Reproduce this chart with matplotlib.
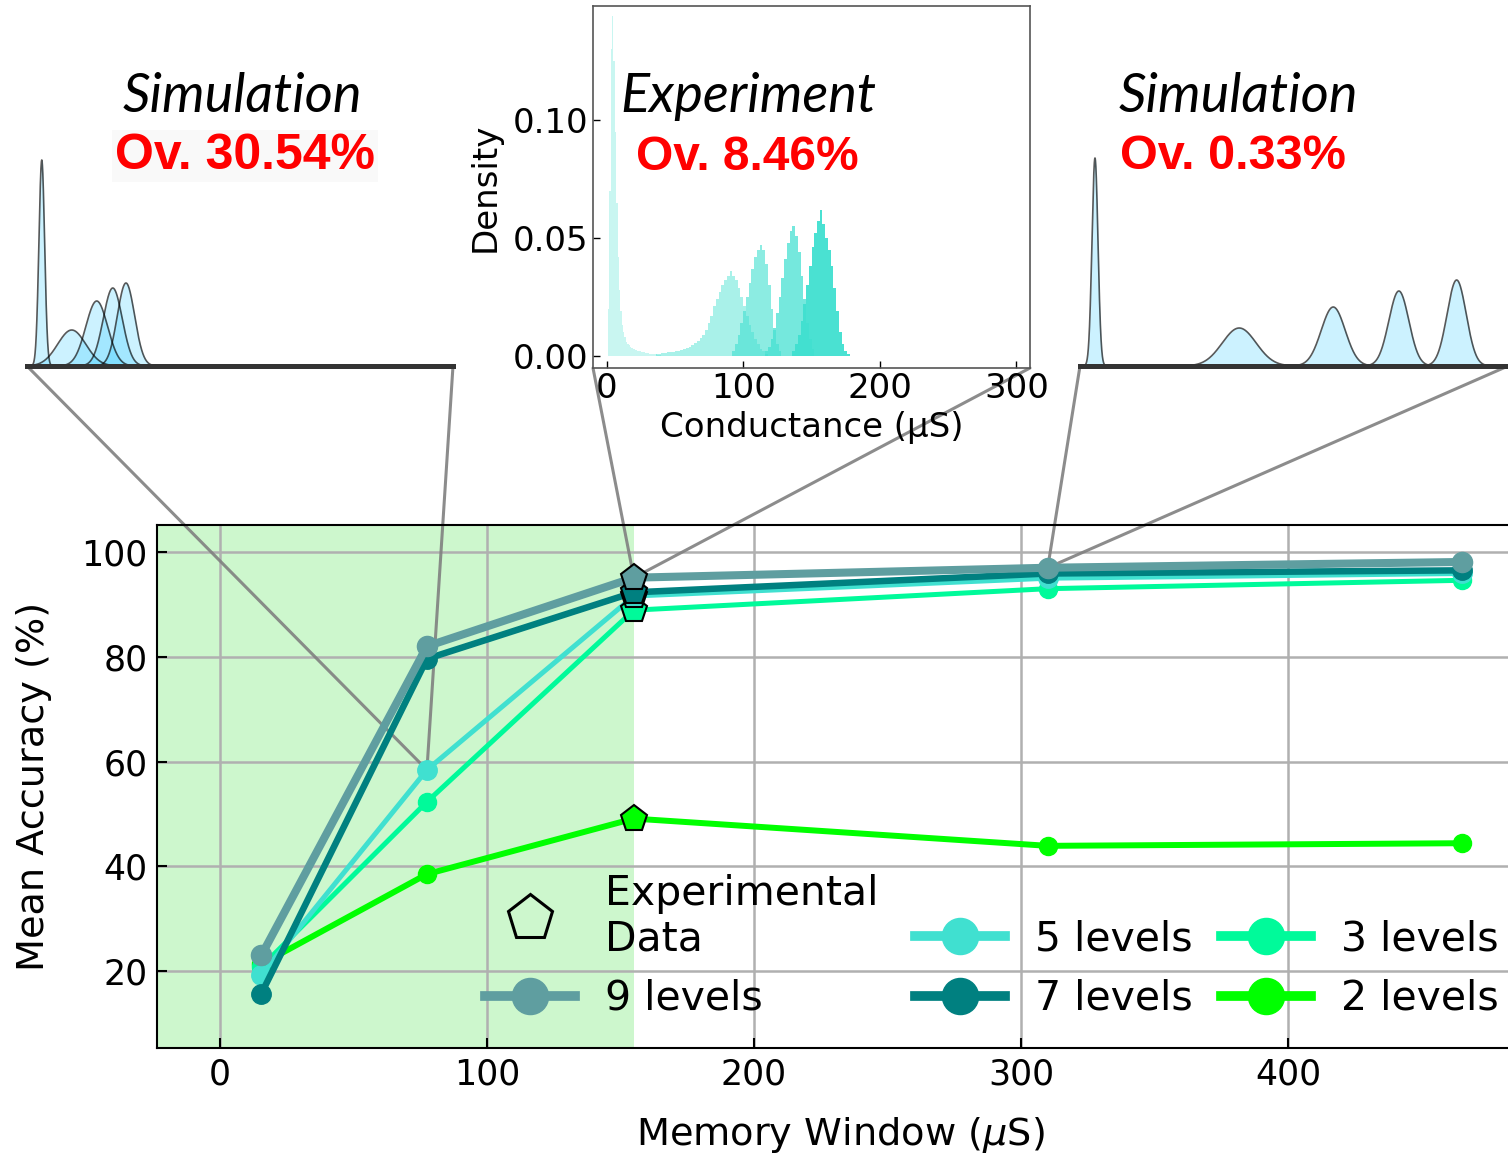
import numpy as np
import matplotlib
matplotlib.use('Agg')
import matplotlib.pyplot as plt
from matplotlib.lines import Line2D
from matplotlib.patches import ConnectionPatch

W, H = 1508, 1155
DPI = 100

# ---------------- main chart data ----------------
memory_window = [15.5, 77.5, 155, 310, 465]
exp_index = 2  # experimental data point (155 uS)
acc_9 = [23.0, 82.0, 95.1, 97.0, 98.1]
acc_7 = [15.7, 79.6, 92.3, 95.9, 96.5]
acc_5 = [19.3, 58.4, 91.6, 95.0, 95.9]
acc_3 = [20.8, 52.3, 88.9, 93.0, 94.6]
acc_2 = [21.3, 38.5, 49.1, 43.9, 44.4]
series_labels = ['9 levels', '7 levels', '5 levels', '3 levels', '2 levels']
series_colors = ['#5F9EA0', '#008080', '#40E0D0', '#00FA9A', '#00FF00']
x_ticks = [0, 100, 200, 300, 400]
y_ticks = [20, 40, 60, 80, 100]
shade_end = 155

# ---------------- simulation insets (Gaussian levels) ----------------
sim_left_means = [10.4, 31.5, 49.1, 60.4, 69.7]
sim_left_sigmas = [2.0, 9.9, 7.7, 6.7, 6.1]
sim_left_peaks = [206, 36, 65, 78, 83]
sim_right_means = [10.5, 111.6, 177.5, 223.5, 264.0]
sim_right_sigmas = [2.1, 11.9, 8.4, 7.0, 6.7]
sim_right_peaks = [208, 38, 59, 75, 86]

# ---------------- experiment histogram ----------------
hist0_start, hist0_width = 1, 1
hist0 = [0.02, 0.07, 0.13, 0.144, 0.125, 0.095, 0.065, 0.042, 0.028, 0.019,
         0.013, 0.010, 0.008, 0.006, 0.005, 0.0045, 0.004, 0.0035, 0.003, 0.0028,
         0.0025, 0.0023, 0.002, 0.0019, 0.0018, 0.0016, 0.0015, 0.0013, 0.0012, 0.0011,
         0.001, 0.0009, 0.0008, 0.0008, 0.0007, 0.0007, 0.0006, 0.0006, 0.0005]
hist1_start, hist1_width = 36, 2
hist1 = [0.0008, 0.001, 0.0012, 0.0013, 0.0015, 0.0016, 0.0017, 0.002, 0.0023, 0.0026,
         0.003, 0.0033, 0.0037, 0.0045, 0.0055, 0.0065, 0.0075, 0.009, 0.011, 0.014,
         0.017, 0.021, 0.024, 0.027, 0.030, 0.032, 0.034, 0.036, 0.034, 0.032,
         0.029, 0.025, 0.021, 0.017, 0.013, 0.010, 0.007, 0.005, 0.003, 0.002, 0.001]
hist2_start, hist2_width = 92, 2
hist2 = [0.002, 0.005, 0.009, 0.014, 0.019, 0.025, 0.031, 0.037, 0.042, 0.045,
         0.047, 0.045, 0.039, 0.030, 0.020, 0.011, 0.005, 0.002]
hist3_start, hist3_width = 116, 2
hist3 = [0.002, 0.004, 0.007, 0.012, 0.018, 0.025, 0.033, 0.041, 0.048, 0.053,
         0.055, 0.051, 0.044, 0.034, 0.024, 0.014, 0.007, 0.003]
hist4_start, hist4_width = 136, 2
hist4 = [0.002, 0.005, 0.009, 0.015, 0.022, 0.030, 0.038, 0.046, 0.052, 0.057,
         0.062, 0.056, 0.050, 0.045, 0.038, 0.029, 0.019, 0.010, 0.005, 0.002, 0.001]
hist_alphas = [0.28, 0.45, 0.6, 0.72, 0.95]
inset_x_ticks = [0, 100, 200, 300]
inset_y_ticks = [0.00, 0.05, 0.10]


def px_rect(x0, ytop, x1, ybot):
    return [x0 / W, 1 - ybot / H, (x1 - x0) / W, (ybot - ytop) / H]


fig = plt.figure(figsize=(W / DPI, H / DPI), dpi=DPI)

# ================= main axes =================
ax = fig.add_axes(px_rect(157, 525, 1508, 1048))
ax.axvspan(-100, shade_end, color='lightgreen', alpha=0.45, lw=0, zorder=0)
ax.set_axisbelow(True)
ax.grid(True, color='#b0b0b0', lw=1.8)

accs = [acc_9, acc_7, acc_5, acc_3, acc_2]
lws = [5.8, 4.7, 3.6, 3.6, 4.3]
mss = [14.5, 14, 14, 13, 13]
order = [4, 3, 2, 1, 0]
for i in order:
    xs = memory_window
    ys = accs[i]
    ax.plot(xs, ys, color=series_colors[i], lw=lws[i], zorder=2 + 0.1 * (4 - i),
            solid_capstyle='round')
    xm = [x for k, x in enumerate(xs) if k != exp_index]
    ym = [y for k, y in enumerate(ys) if k != exp_index]
    ax.plot(xm, ym, ls='none', marker='o', ms=mss[i], color=series_colors[i],
            mec=series_colors[i], zorder=2.05 + 0.1 * (4 - i))
for i in order:
    ax.plot([memory_window[exp_index]], [accs[i][exp_index]], ls='none', marker='p',
            ms=20, mfc=series_colors[i], mec='black', mew=1.5, zorder=3 + 0.1 * (4 - i))

ax.set_xlim(-23.6, 482.4)
ax.set_ylim(5.3, 105.16)
ax.set_xticks(x_ticks)
ax.set_yticks(y_ticks)
ax.tick_params(direction='in', length=7, width=1.5, labelsize=25, pad=7)
for s in ['left', 'bottom', 'top']:
    ax.spines[s].set_linewidth(1.5)
ax.spines['right'].set_visible(False)
ax.set_ylabel('Mean Accuracy (%)', fontsize=27.5)
ax.yaxis.set_label_coords(-0.078, 0.5)
ax.set_xlabel('Memory Window ($\\mu$S)', fontsize=27.5)
ax.xaxis.set_label_coords(0.506, -0.128)

# legends (two blocks, bottom aligned)
leg_kw = dict(frameon=False, fontsize=29.5, handlelength=2.2, handletextpad=0.73,
              columnspacing=0.7, labelspacing=0.47, borderpad=0, borderaxespad=0,
              bbox_transform=fig.transFigure)
handlesA = [Line2D([], [], ls='none', marker='p', ms=34, mfc='none', mec='black', mew=2.2),
            Line2D([], [], color=series_colors[0], lw=7, marker='o', ms=26)]
labelsA = ['Experimental\nData', series_labels[0]]
legA = ax.legend(handlesA, labelsA, ncol=1, loc='lower left',
                 bbox_to_anchor=(485 / W, 1 - 1019 / H), **leg_kw)
ax.add_artist(legA)
orderB = [2, 1, 3, 4]  # 5, 7, 3, 2
handlesB = [Line2D([], [], color=series_colors[i], lw=7, marker='o', ms=26) for i in orderB]
labelsB = [series_labels[i] for i in orderB]
ax.legend(handlesB, labelsB, ncol=2, loc='lower right',
          bbox_to_anchor=(1499 / W, 1 - 1019 / H), **leg_kw)


# ================= simulation insets =================
def sim_inset(rect, means, sigmas, peaks):
    a = fig.add_axes(rect)
    a.set_facecolor('none')
    for m, s, p in zip(means, sigmas, peaks):
        x = np.linspace(m - 4 * s, m + 4 * s, 400)
        y = p * np.exp(-0.5 * ((x - m) / s) ** 2)
        a.fill_between(x, 0, y, color='#00BFFF', alpha=0.2, lw=0)
        a.plot(x, y, color='black', lw=1.2, alpha=0.65)
    a.set_xlim(0, 300)
    a.set_ylim(0, 216)
    for s in ['left', 'right', 'top']:
        a.spines[s].set_visible(False)
    a.spines['bottom'].set_linewidth(3.6)
    a.spines['bottom'].set_color('#333333')
    a.set_xticks([])
    a.set_yticks([])
    return a


axl = sim_inset(px_rect(27, 150, 453, 366), sim_left_means, sim_left_sigmas, sim_left_peaks)
axr = sim_inset(px_rect(1080, 150, 1508, 366), sim_right_means, sim_right_sigmas, sim_right_peaks)

# ================= experiment inset =================
axm = fig.add_axes(px_rect(593, 6, 1030, 368))
hists = [(hist0_start, hist0_width, hist0), (hist1_start, hist1_width, hist1),
         (hist2_start, hist2_width, hist2), (hist3_start, hist3_width, hist3),
         (hist4_start, hist4_width, hist4)]
for (st, wd, hv), al in zip(hists, hist_alphas):
    edges = st + wd * np.arange(len(hv))
    axm.bar(edges, hv, width=wd, align='edge', color='#40E0D0', alpha=al, lw=0)
axm.set_xlim(-10, 310)
axm.set_ylim(-0.0051, 0.1483)
axm.set_xticks(inset_x_ticks)
axm.set_yticks(inset_y_ticks)
axm.set_yticklabels([f'{v:.2f}' for v in inset_y_ticks])
axm.tick_params(direction='in', length=5, width=1, labelsize=24.5, pad=3)
for s in axm.spines.values():
    s.set_linewidth(1.2)
    s.set_color('#555555')
axm.set_xlabel('Conductance (µS)', fontsize=24.5, labelpad=4)
axm.set_ylabel('Density', fontsize=24.5, labelpad=8)

# ================= connectors =================
conn_kw = dict(color='#808080', lw=2.2, alpha=0.9, clip_on=False, zorder=1.5)
targets = [
    ((memory_window[1], acc_5[1]), axl, (0, 0)),
    ((memory_window[1], acc_5[1]), axl, (1, 0)),
    ((memory_window[2], acc_9[2]), axm, (0, 0)),
    ((memory_window[2], acc_9[2]), axm, (1, 0)),
    ((memory_window[3], acc_9[3]), axr, (0, 0)),
    ((memory_window[3], acc_9[3]), axr, (1, 0)),
]
for xyA, ins, xyB in targets:
    cp = ConnectionPatch(xyA=xyA, coordsA=ax.transData, xyB=xyB, coordsB=ins.transAxes,
                         **conn_kw)
    ax.add_artist(cp)

# ================= inset titles =================
it_kw = dict(fontfamily='Lato', style='italic', fontsize=39, ha='center', va='baseline')
ov_kw = dict(fontfamily='Liberation Sans', weight='bold', color='#FF0000',
             ha='center', va='baseline')
fig.text(242 / W, 1 - 112 / H, 'Simulation', **it_kw)
fig.text(245 / W, 1 - 169 / H, 'Ov. 30.54%', fontsize=36,
         bbox=dict(facecolor='#f9f9f9', edgecolor='none', pad=2), **ov_kw)
fig.text(748 / W, 1 - 112 / H, 'Experiment', **it_kw)
fig.text(747 / W, 1 - 170 / H, 'Ov. 8.46%', fontsize=34.5, **ov_kw)
fig.text(1238 / W, 1 - 112 / H, 'Simulation', **it_kw)
fig.text(1233 / W, 1 - 169 / H, 'Ov. 0.33%', fontsize=35, **ov_kw)

fig.savefig('out.png', dpi=DPI)
